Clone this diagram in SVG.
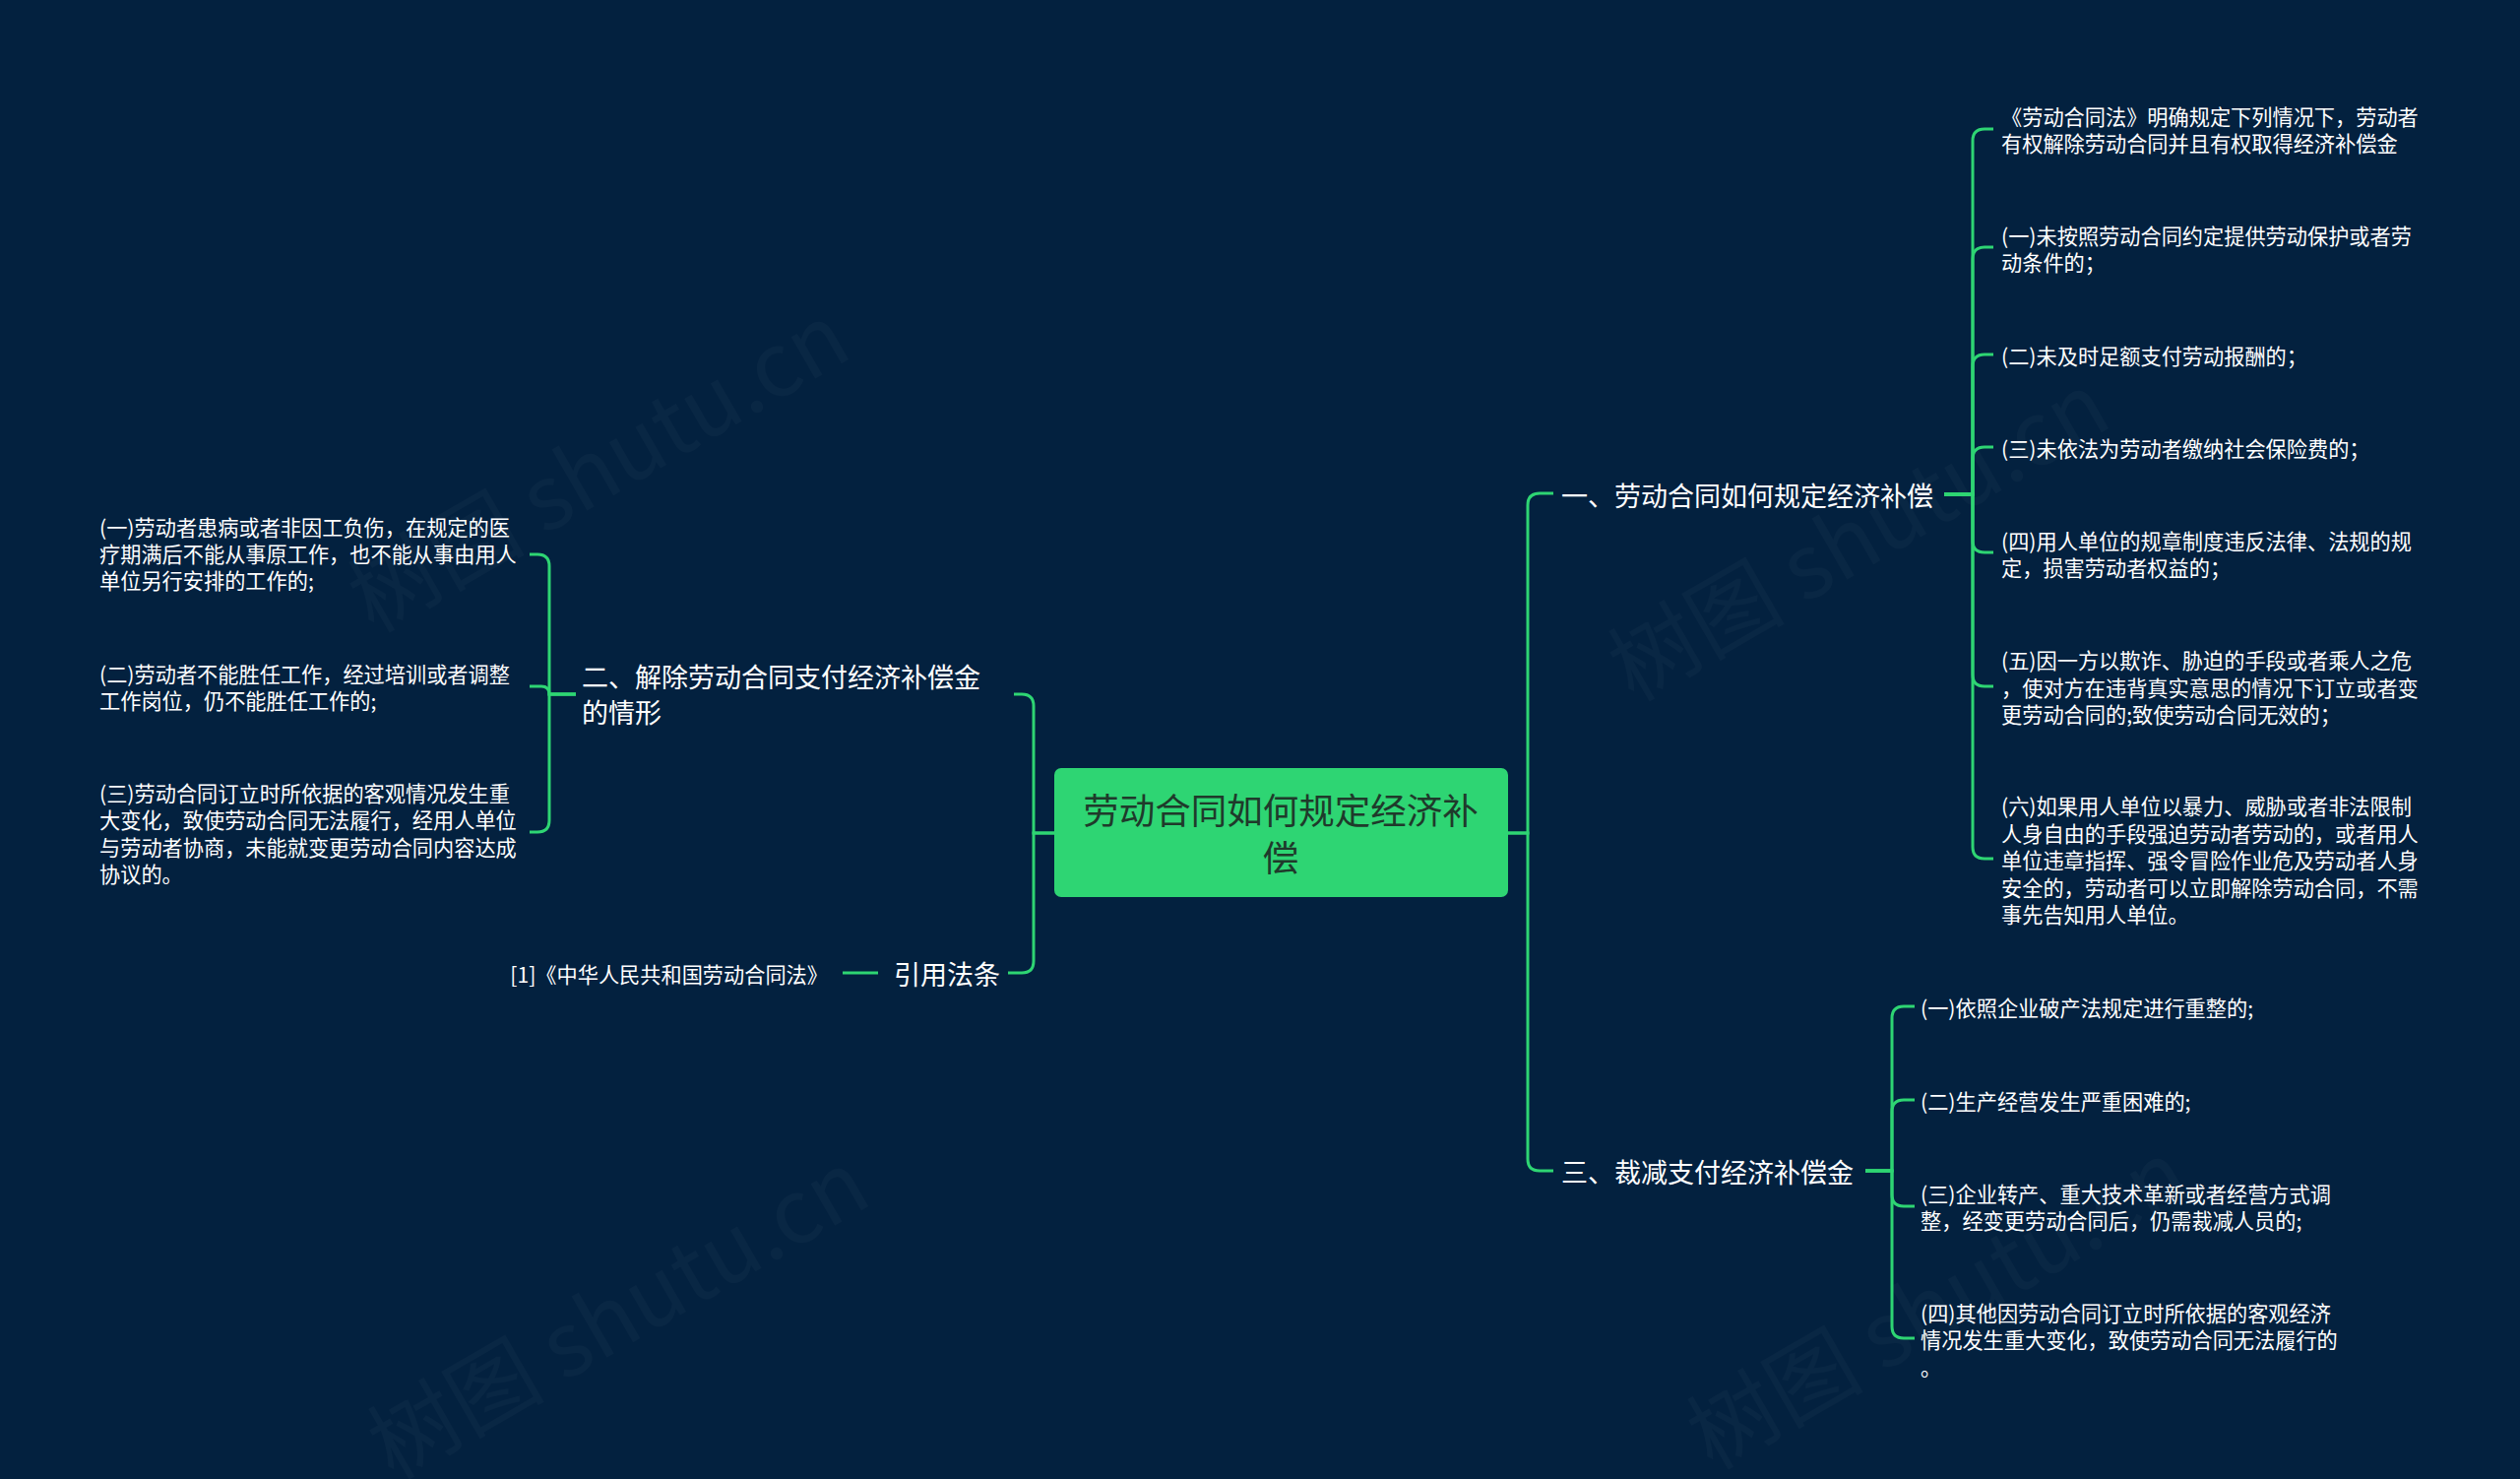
<svg xmlns="http://www.w3.org/2000/svg" width="2560" height="1502" viewBox="0 0 2560 1502">
<style>
text{font-family:"Noto Sans CJK SC","Noto Sans",sans-serif;fill:#ffffff;dominant-baseline:central}
.leaf{font-size:21.2px}
.br{font-size:27px}
.root{font-size:36.5px;fill:#1f3a2b;text-anchor:middle}
.wm{font-size:90px;fill:#ffffff;opacity:0.025}
#edges path{fill:none;stroke:#2ed573;stroke-width:3}
</style>
<rect width="2560" height="1502" fill="#03213f"/>
<g id="watermarks">
<text class="wm" x="360" y="610" transform="rotate(-30 360 610)">树图 shutu.cn</text>
<text class="wm" x="1640" y="680" transform="rotate(-30 1640 680)">树图 shutu.cn</text>
<text class="wm" x="380" y="1470" transform="rotate(-30 380 1470)">树图 shutu.cn</text>
<text class="wm" x="1720" y="1460" transform="rotate(-30 1720 1460)">树图 shutu.cn</text>
</g>
<g id="edges">
<path d="M1532 846 H1552 V513 Q1552 501 1564 501 H1578"/>
<path d="M1532 846 H1552 V1177 Q1552 1189 1564 1189 H1578"/>
<path d="M1975 502 H2004 V143 Q2004 131 2016 131 H2025"/>
<path d="M1975 502 H2004 V263 Q2004 251 2016 251 H2025"/>
<path d="M1975 502 H2004 V372 Q2004 360 2016 360 H2025"/>
<path d="M1975 502 H2004 V466 Q2004 454 2016 454 H2025"/>
<path d="M1975 502 H2004 V549 Q2004 561 2016 561 H2025"/>
<path d="M1975 502 H2004 V685 Q2004 697 2016 697 H2025"/>
<path d="M1975 502 H2004 V860 Q2004 872 2016 872 H2025"/>
<path d="M1895 1189 H1922 V1034 Q1922 1022 1934 1022 H1945"/>
<path d="M1895 1189 H1922 V1129 Q1922 1117 1934 1117 H1945"/>
<path d="M1895 1189 H1922 V1213 Q1922 1225 1934 1225 H1945"/>
<path d="M1895 1189 H1922 V1347 Q1922 1359 1934 1359 H1945"/>
<path d="M1071 846 H1050 V717 Q1050 705 1038 705 H1030"/>
<path d="M1071 846 H1050 V976 Q1050 988 1038 988 H1024"/>
<path d="M585 705 H558 V575 Q558 563 546 563 H538"/>
<path d="M585 705 H558 Q558 697 550 697 H538"/>
<path d="M585 705 H558 V833 Q558 845 546 845 H538"/>
<path d="M892 988 H856"/>
</g>
<g id="root">
<rect x="1071" y="780" width="461" height="131" rx="7" fill="#2ed573"/>
<text class="root" x="1301" y="821">劳动合同如何规定经济补</text>
<text class="root" x="1301" y="869">偿</text>
</g>
<g id="b1"><text class="br" x="1586" y="502">一、劳动合同如何规定经济补偿</text></g>
<g id="b1-0"><text class="leaf" x="2033" y="117">《劳动合同法》明确规定下列情况下，劳动者</text><text class="leaf" x="2033" y="144">有权解除劳动合同并且有权取得经济补偿金</text></g>
<g id="b1-1"><text class="leaf" x="2033" y="238">(一)未按照劳动合同约定提供劳动保护或者劳</text><text class="leaf" x="2033" y="265">动条件的；</text></g>
<g id="b1-2"><text class="leaf" x="2033" y="360">(二)未及时足额支付劳动报酬的；</text></g>
<g id="b1-3"><text class="leaf" x="2033" y="454">(三)未依法为劳动者缴纳社会保险费的；</text></g>
<g id="b1-4"><text class="leaf" x="2033" y="548">(四)用人单位的规章制度违反法律、法规的规</text><text class="leaf" x="2033" y="575">定，损害劳动者权益的；</text></g>
<g id="b1-5"><text class="leaf" x="2033" y="669">(五)因一方以欺诈、胁迫的手段或者乘人之危</text><text class="leaf" x="2033" y="697">，使对方在违背真实意思的情况下订立或者变</text><text class="leaf" x="2033" y="724">更劳动合同的;致使劳动合同无效的；</text></g>
<g id="b1-6"><text class="leaf" x="2033" y="817">(六)如果用人单位以暴力、威胁或者非法限制</text><text class="leaf" x="2033" y="845">人身自由的手段强迫劳动者劳动的，或者用人</text><text class="leaf" x="2033" y="872">单位违章指挥、强令冒险作业危及劳动者人身</text><text class="leaf" x="2033" y="900">安全的，劳动者可以立即解除劳动合同，不需</text><text class="leaf" x="2033" y="927">事先告知用人单位。</text></g>
<g id="b3"><text class="br" x="1586" y="1189">三、裁减支付经济补偿金</text></g>
<g id="b3-1"><text class="leaf" x="1951" y="1022">(一)依照企业破产法规定进行重整的;</text></g>
<g id="b3-2"><text class="leaf" x="1951" y="1117">(二)生产经营发生严重困难的;</text></g>
<g id="b3-3"><text class="leaf" x="1951" y="1211">(三)企业转产、重大技术革新或者经营方式调</text><text class="leaf" x="1951" y="1238">整，经变更劳动合同后，仍需裁减人员的;</text></g>
<g id="b3-4"><text class="leaf" x="1951" y="1332">(四)其他因劳动合同订立时所依据的客观经济</text><text class="leaf" x="1951" y="1359">情况发生重大变化，致使劳动合同无法履行的</text><text class="leaf" x="1951" y="1387">。</text></g>
<g id="b2"><text class="br" x="591" y="686">二、解除劳动合同支付经济补偿金</text><text class="br" x="591" y="722">的情形</text></g>
<g id="b2-1"><text class="leaf" x="101" y="534">(一)劳动者患病或者非因工负伤，在规定的医</text><text class="leaf" x="101" y="561">疗期满后不能从事原工作，也不能从事由用人</text><text class="leaf" x="101" y="588">单位另行安排的工作的;</text></g>
<g id="b2-2"><text class="leaf" x="101" y="683">(二)劳动者不能胜任工作，经过培训或者调整</text><text class="leaf" x="101" y="710">工作岗位，仍不能胜任工作的;</text></g>
<g id="b2-3"><text class="leaf" x="101" y="804">(三)劳动合同订立时所依据的客观情况发生重</text><text class="leaf" x="101" y="831">大变化，致使劳动合同无法履行，经用人单位</text><text class="leaf" x="101" y="859">与劳动者协商，未能就变更劳动合同内容达成</text><text class="leaf" x="101" y="886">协议的。</text></g>
<g id="b4"><text class="br" x="908" y="988">引用法条</text></g>
<g id="b4-1"><text class="leaf" x="841" y="988" text-anchor="end">[1]《中华人民共和国劳动合同法》</text></g>
</svg>
